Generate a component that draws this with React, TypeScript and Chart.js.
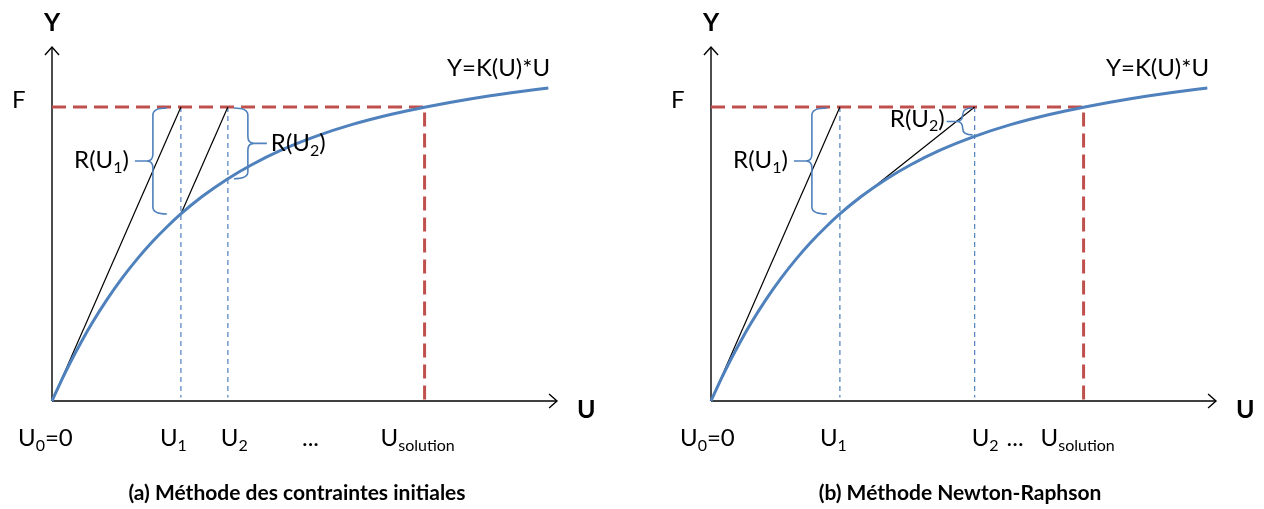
import React, { useEffect, useRef } from "react";
import { Chart, registerables } from "chart.js";

Chart.register(...registerables);

// ---- data (arbitrary units: U horizontal, Y vertical) ----
const F = 10;
const X_MAX = 17.2;
const Y_MAX = 12.04;
const curveU = [0, 0.34, 0.68, 1.02, 1.361, 1.871, 2.381, 2.891, 3.401, 3.912, 4.388, 5.102, 5.952, 6.803, 7.823, 8.98, 10.204, 11.565, 12.687, 14.286, 15.646, 16.905];
const curveY = [0, 0.735, 1.418, 2.051, 2.643, 3.446, 4.17, 4.816, 5.398, 5.918, 6.361, 6.946, 7.537, 8.037, 8.541, 9.003, 9.401, 9.755, 9.993, 10.282, 10.483, 10.646];
const U1 = 4.39;
const Y_U1 = 6.36;
const U2_A = 5.99;
const Y_U2_A = 7.56;
const U2_B = 8.98;
const Y_U2_B = 9.05;
const U_SOL = 12.69;

const TITLES = ["(a) Méthode des contraintes initiales", "(b) Méthode Newton-Raphson"];

const BLUE = "#4F81BD";
const RED = "#C0504D";
const FONT = 'Lato, "Open Sans", sans-serif';
const LBL = 24;

type Part = { t: string; sub?: boolean };
type Label = { parts: Part[]; u: number; dx: number; y: number; size: number; align?: "left" | "right" | "center" };
type Brace = { u: number; yTop: number; yBot: number; spine: number; ends: number; tip: number };

function drawRich(ctx: CanvasRenderingContext2D, parts: Part[], x: number, y: number, size: number, weight: string, align: "left" | "right" | "center") {
  const main = `${weight} ${size}px ${FONT}`;
  const subF = `${weight} ${Math.round(size * 0.66)}px ${FONT}`;
  let w = 0;
  const widths = parts.map((p) => {
    ctx.font = p.sub ? subF : main;
    const m = ctx.measureText(p.t).width;
    w += m;
    return m;
  });
  let cx = align === "left" ? x : align === "right" ? x - w : x - w / 2;
  ctx.textBaseline = "alphabetic";
  ctx.textAlign = "left";
  ctx.fillStyle = "#000";
  parts.forEach((p, i) => {
    ctx.font = p.sub ? subF : main;
    ctx.fillText(p.t, cx, p.sub ? y + size * 0.2 : y);
    cx += widths[i];
  });
}

function drawBrace(ctx: CanvasRenderingContext2D, s: number, e: number, tip: number, top: number, bot: number) {
  const mid = (top + bot) / 2;
  const r = Math.min(7, (bot - top) / 4);
  const dir = Math.sign(tip - s);
  ctx.beginPath();
  ctx.moveTo(e, top);
  ctx.quadraticCurveTo(s, top, s, top + r);
  ctx.lineTo(s, mid - r);
  ctx.quadraticCurveTo(s, mid, s + dir * 6, mid);
  ctx.lineTo(tip, mid);
  ctx.moveTo(s + dir * 6, mid);
  ctx.quadraticCurveTo(s, mid, s, mid + r);
  ctx.lineTo(s, bot - r);
  ctx.quadraticCurveTo(s, bot, e, bot);
  ctx.strokeStyle = BLUE;
  ctx.lineWidth = 1.6;
  ctx.stroke();
}

const pts = (us: number[], ys: number[]) => us.map((u, i) => ({ x: u, y: ys[i] }));

type PanelDef = {
  left: number;
  width: number;
  U2: number;
  second: { x: number; y: number }[];
  braces: Brace[];
  braceLabels: Label[];
  ticks: Label[];
  titleX: number;
  title: string;
};

const sub = (a: string, b: string, c = ""): Part[] => (c ? [{ t: a }, { t: b, sub: true }, { t: c }] : [{ t: a }, { t: b, sub: true }]);

const PANELS: PanelDef[] = [
  {
    left: 0,
    width: 640,
    U2: U2_A,
    second: [{ x: U1, y: Y_U1 }, { x: U2_A, y: F }],
    braces: [
      { u: U1, yTop: F, yBot: Y_U1, spine: -28, ends: -14, tip: -46 },
      { u: U2_A, yTop: F, yBot: Y_U2_A, spine: 20, ends: 6, tip: 39 },
    ],
    braceLabels: [
      { parts: sub("R(U", "1", ")"), u: U1, dx: -52, y: (F + Y_U1) / 2, size: LBL, align: "right" },
      { parts: sub("R(U", "2", ")"), u: U2_A, dx: 43, y: (F + Y_U2_A) / 2, size: LBL, align: "left" },
    ],
    ticks: [
      { parts: sub("U", "0", "=0"), u: 0, dx: -34, y: 0, size: LBL, align: "left" },
      { parts: sub("U", "1"), u: U1, dx: -21, y: 0, size: LBL, align: "left" },
      { parts: sub("U", "2"), u: U2_A, dx: -7, y: 0, size: LBL, align: "left" },
      { parts: [{ t: "..." }], u: 0, dx: 250, y: 0, size: LBL, align: "left" },
      { parts: sub("U", "solution"), u: U_SOL, dx: -44, y: 0, size: LBL, align: "left" },
    ],
    titleX: 297,
    title: TITLES[0],
  },
  {
    left: 659,
    width: 605,
    U2: U2_B,
    second: [{ x: U1, y: Y_U1 }, { x: U2_B, y: F }],
    braces: [
      { u: U1, yTop: F, yBot: Y_U1, spine: -28, ends: -13, tip: -46 },
      { u: U2_B, yTop: F, yBot: Y_U2_B, spine: -12, ends: -2, tip: -28 },
    ],
    braceLabels: [
      { parts: sub("R(U", "1", ")"), u: U1, dx: -52, y: (F + Y_U1) / 2, size: LBL, align: "right" },
      { parts: sub("R(U", "2", ")"), u: U2_B, dx: -30, y: (F + Y_U2_B) / 2 + 0.08, size: LBL, align: "right" },
    ],
    ticks: [
      { parts: sub("U", "0", "=0"), u: 0, dx: -31, y: 0, size: LBL, align: "left" },
      { parts: sub("U", "1"), u: U1, dx: -20, y: 0, size: LBL, align: "left" },
      { parts: sub("U", "2"), u: U2_B, dx: -3, y: 0, size: LBL, align: "left" },
      { parts: [{ t: "..." }], u: U_SOL, dx: -77, y: 0, size: LBL, align: "left" },
      { parts: sub("U", "solution"), u: U_SOL, dx: -43, y: 0, size: LBL, align: "left" },
    ],
    titleX: 301,
    title: TITLES[1],
  },
];

function Panel({ def }: { def: PanelDef }) {
  const ref = useRef<HTMLCanvasElement | null>(null);
  useEffect(() => {
    if (!ref.current) return;
    const AX = 0.27;
    const AW = 0.24;
    const line = (data: { x: number; y: number }[], color: string, width: number, order: number, dash: number[] = []) => ({
      data,
      borderColor: color,
      borderWidth: width,
      borderDash: dash,
      pointRadius: 0,
      fill: false,
      tension: 0,
      clip: false as any,
      order,
    });
    const textPlugin = {
      id: "annot",
      afterDatasetsDraw(chart: any) {
        const ctx: CanvasRenderingContext2D = chart.ctx;
        const xs = chart.scales.x;
        const ys = chart.scales.y;
        const px = (u: number) => xs.getPixelForValue(u);
        const py = (v: number) => ys.getPixelForValue(v);
        ctx.save();
        def.braces.forEach((b) => {
          const x0 = px(b.u);
          drawBrace(ctx, x0 + b.spine, x0 + b.ends, x0 + b.tip, py(b.yTop) + 1, py(b.yBot));
        });
        def.braceLabels.forEach((l) => drawRich(ctx, l.parts, px(l.u) + l.dx, py(l.y) + 8, l.size, "normal", l.align || "left"));
        def.ticks.forEach((l) => drawRich(ctx, l.parts, px(l.u) + l.dx, py(0) + 45, l.size, "normal", l.align || "left"));
        drawRich(ctx, [{ t: "F" }], px(0) - 40, py(F) + 1, LBL, "normal", "left");
        drawRich(ctx, [{ t: "Y=K(U)*U" }], px(0) + 395, py(F) - 31, LBL, "normal", "left");
        drawRich(ctx, [{ t: "Y" }], px(0), py(Y_MAX) - 16, 25, "bold", "center");
        drawRich(ctx, [{ t: "U" }], px(X_MAX) + 20, py(0) + 17, 25, "bold", "left");
        drawRich(ctx, [{ t: def.title }], def.titleX, 500, 21, "bold", "center");
        ctx.restore();
      },
    };
    const chart = new Chart(ref.current, {
      type: "line",
      data: {
        datasets: [
          { ...line(pts(curveU, curveY), BLUE, 3, 1), cubicInterpolationMode: "monotone" as const },
          line([{ x: 0, y: 0 }, { x: U1, y: F }], "#000", 1.2, 2),
          line(def.second, "#000", 1.2, 2),
          line([{ x: 0, y: F }, { x: U_SOL, y: F }, { x: U_SOL, y: 0 }], RED, 3, 3, [14, 7]),
          line([{ x: U1, y: F }, { x: U1, y: 0.12 }], BLUE, 1.2, 4, [5, 4]),
          line([{ x: def.U2, y: F }, { x: def.U2, y: 0.12 }], BLUE, 1.2, 4, [5, 4]),
          line([{ x: 0, y: 0 }, { x: X_MAX, y: 0 }], "#000", 1.4, 5),
          line([{ x: 0, y: 0 }, { x: 0, y: Y_MAX }], "#000", 1.4, 5),
          line([{ x: X_MAX - AX, y: AW }, { x: X_MAX, y: 0 }, { x: X_MAX - AX, y: -AW }], "#000", 1.4, 5),
          line([{ x: -AW, y: Y_MAX - AX }, { x: 0, y: Y_MAX }, { x: AW, y: Y_MAX - AX }], "#000", 1.4, 5),
        ],
      },
      options: {
        responsive: false,
        maintainAspectRatio: false,
        animation: false,
        events: [],
        layout: { padding: { left: 52, top: 47, right: def.width - 557, bottom: 509 - 401 } },
        plugins: { legend: { display: false }, tooltip: { enabled: false }, title: { display: false } },
        scales: {
          x: { type: "linear", min: 0, max: X_MAX, display: false },
          y: { type: "linear", min: 0, max: Y_MAX, display: false },
        },
      },
      plugins: [textPlugin],
    });
    return () => chart.destroy();
  }, [def]);
  return (
    <canvas
      ref={ref}
      width={def.width}
      height={509}
      style={{ position: "absolute", left: def.left, top: 0, width: def.width, height: 509 }}
    />
  );
}

export default function App() {
  useEffect(() => {
    document.body.style.margin = "0";
    document.body.style.background = "#fff";
  }, []);
  return (
    <div style={{ position: "relative", width: 1264, height: 509, background: "#fff", overflow: "hidden" }}>
      {PANELS.map((p, i) => (
        <Panel key={i} def={p} />
      ))}
    </div>
  );
}
